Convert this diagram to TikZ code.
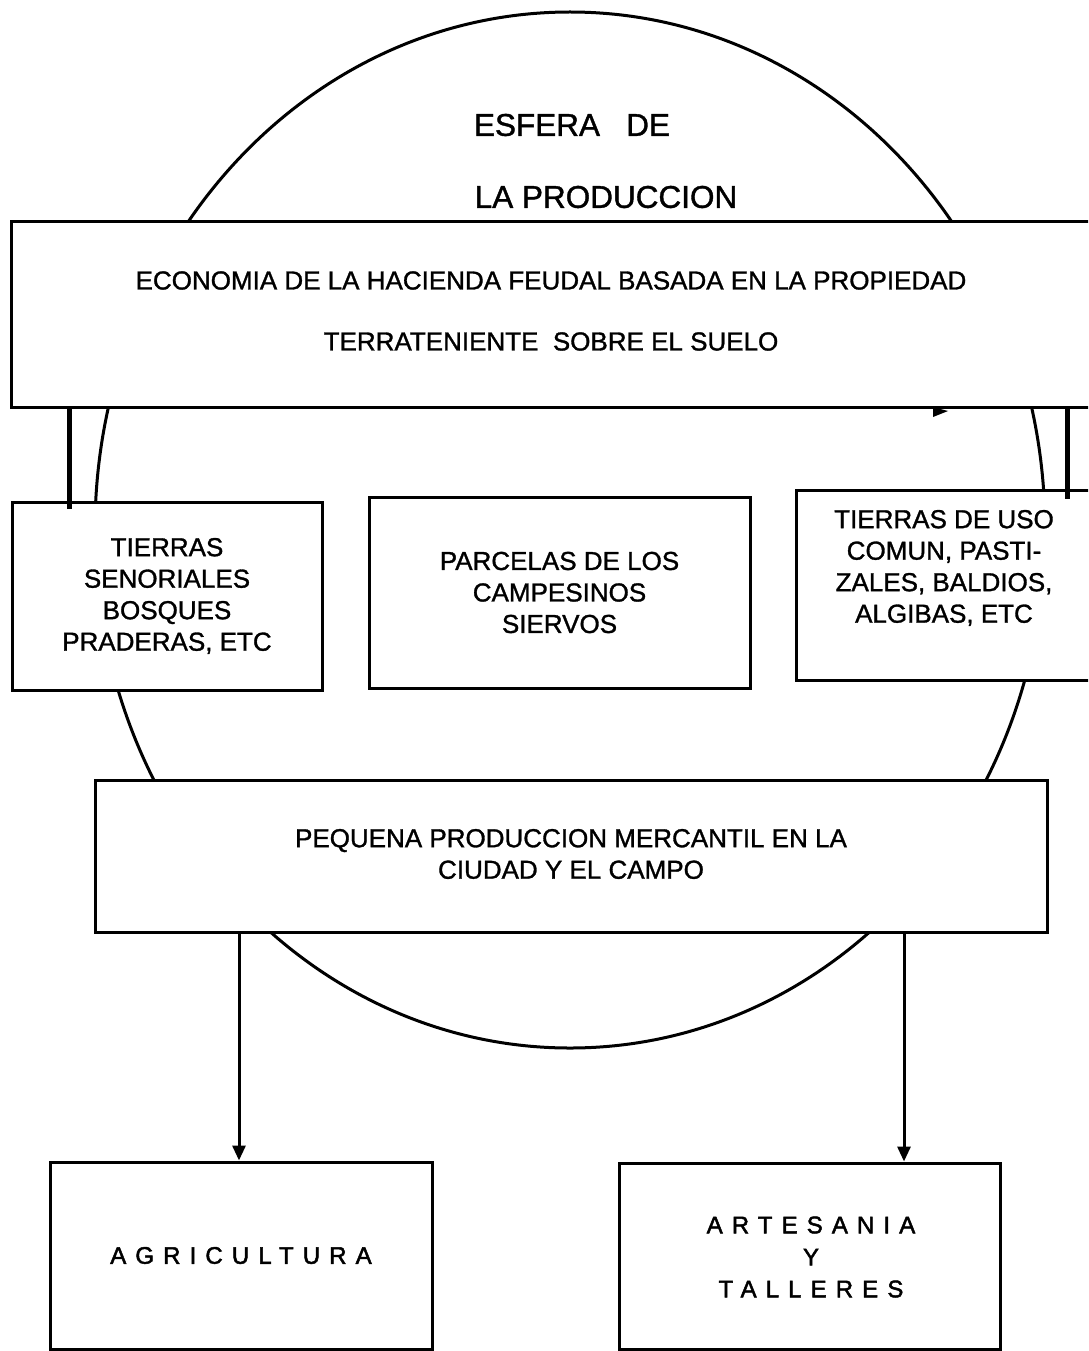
\documentclass[tikz,border=0pt]{standalone}
\usepackage{fontspec}
\setmainfont{Liberation Sans}[FakeBold=1.2]
\usetikzlibrary{arrows.meta,calc}
\tikzset{
  box/.style={draw, line width=3pt, fill=white, inner sep=0pt, align=center,
    font=\fontsize{26}{31.5}\selectfont},
  txt/.style={inner sep=0pt, align=center, font=\fontsize{26}{31.5}\selectfont},
  conn/.style={line width=5pt},
  arr/.style={line width=3pt, -{Triangle[length=15pt,width=13pt]}},
  title/.style={inner sep=0pt, font=\fontsize{31.5}{31}\selectfont},
  spaced/.style={font=\fontsize{24}{32}\selectfont\addfontfeature{LetterSpace=38,FakeBold=2}}
}
\begin{document}
\begin{tikzpicture}[x=1pt,y=-1pt]
\clip (0,0) rectangle (1088,1351);
\fill[white] (0,0) rectangle (1088,1351);
% sphere
\draw[line width=3pt] (570,530) ellipse [x radius=475pt, y radius=518pt];
\node[title] (t1) at (572,125) {ESFERA\ \ \ DE};
\node[title] (t2) at (606,197) {LA PRODUCCION};
% top box
\node[box, minimum width=1084pt, minimum height=186pt] (top) at (553,314) {};
\node[txt, font=\fontsize{26}{61}\selectfont] (topt) at (551,311)
  {ECONOMIA DE LA HACIENDA FEUDAL BASADA EN LA PROPIEDAD\\TERRATENIENTE\ \ SOBRE EL SUELO};
% three land boxes
\node[box, minimum width=310pt, minimum height=188pt] (lb) at (167,596)
  {TIERRAS\\SENORIALES\\BOSQUES\\PRADERAS, ETC};
\node[box, minimum width=381pt, minimum height=191pt] (mb) at (559.5,592.5)
  {PARCELAS DE LOS\\CAMPESINOS\\SIERVOS};
\node[box, minimum width=299pt, minimum height=190pt] (rb) at (945.5,585) {};
\node[txt] (rbt) at (944,568)
  {TIERRAS DE USO\\COMUN, PASTI-\\ZALES, BALDIOS,\\ALGIBAS, ETC};
% small production box
\node[box, minimum width=952pt, minimum height=152pt] (pq) at (571,856) {};
\node[txt] (pqt) at (571,854)
  {PEQUENA PRODUCCION MERCANTIL EN LA\\CIUDAD Y EL CAMPO};
% bottom boxes
\node[box, minimum width=382pt, minimum height=187pt, spaced] (ag) at (241,1255.5)
  {AGRICULTURA};
\node[box, minimum width=381pt, minimum height=186pt] (ar) at (809.5,1256) {};
\node[txt, spaced] (art) at (811,1257)
  {ARTESANIA\\Y\\TALLERES};
% thick connectors
\coordinate (lc) at (69,0);
\coordinate (rc) at (1067,0);
\draw[conn] (top.south -| lc) -- ($(lb.north -| lc)+(0,8)$);
\draw[conn] (top.south -| rc) -- ($(rb.north -| rc)+(0,10)$);
% small arrowhead on top box
\coordinate (ah) at (941,411);
\fill ($(ah)+(-8,-4)$) -- ($(ah)+(7,0)$) -- ($(ah)+(-8,6)$) -- cycle;
% arrows down
\coordinate (la) at (239,0);
\coordinate (ra) at (904,0);
\draw[arr] (pq.south -| la) -- (ag.north -| la);
\draw[arr] (pq.south -| ra) -- (ar.north -| ra);
\end{tikzpicture}
\end{document}
